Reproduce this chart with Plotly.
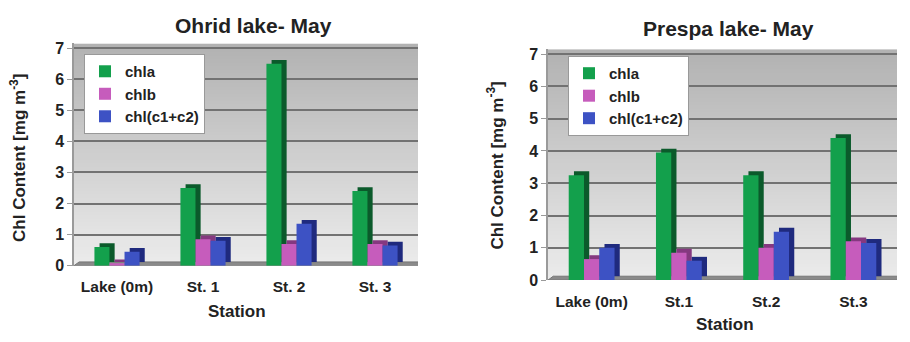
import base64
import struct
import zlib
import plotly.graph_objects as go

# ---------------- data ----------------
stations_ohrid = ["Lake (0m)", "St. 1", "St. 2", "St. 3"]
stations_prespa = ["Lake (0m)", "St.1", "St.2", "St.3"]
series_names = ["chla", "chlb", "chl(c1+c2)"]

ohrid_chla = [0.6, 2.5, 6.5, 2.4]
ohrid_chlb = [0.08, 0.85, 0.7, 0.7]
ohrid_chlc = [0.45, 0.8, 1.35, 0.65]

prespa_chla = [3.25, 3.95, 3.25, 4.4]
prespa_chlb = [0.65, 0.85, 1.0, 1.2]
prespa_chlc = [1.0, 0.6, 1.5, 1.15]

y_ticks = [0, 1, 2, 3, 4, 5, 6, 7]

# ---------------- style ----------------
FONT = "Liberation Sans"
W, H = 910, 342
front_colors = ["#13a04c", "#c65cbc", "#3d52c4"]
side_colors = ["#0b5a2b", "#853880", "#1f2a7e"]
BAR_W = 0.175
OFFSETS = [-0.2625, -0.0875, 0.0875]
DX = 0.06   # depth shift in category units
DY = 0.12   # depth shift in value units
YMAX = 7.15


def px(x):
    return x / W


def py(y):
    return (H - y) / H


def gradient_png(top, bottom, h=64):
    rows = b""
    for r in range(h):
        t = r / (h - 1)
        pix = bytes(int(round(top[k] + (bottom[k] - top[k]) * t)) for k in range(3))
        rows += b"\x00" + pix

    def chunk(tag, data):
        c = struct.pack(">I", len(data)) + tag + data
        return c + struct.pack(">I", zlib.crc32(tag + data) & 0xFFFFFFFF)
    png = b"\x89PNG\r\n\x1a\n"
    png += chunk(b"IHDR", struct.pack(">IIBBBBB", 1, h, 8, 2, 0, 0, 0))
    png += chunk(b"IDAT", zlib.compress(rows))
    png += chunk(b"IEND", b"")
    return "data:image/png;base64," + base64.b64encode(png).decode()


GRAD = gradient_png((178, 178, 178), (236, 236, 236))

fig = go.Figure()

panels = [
    dict(cats=stations_ohrid, vals=[ohrid_chla, ohrid_chlb, ohrid_chlc],
         xa="x", ya="y", legend="legend"),
    dict(cats=stations_prespa, vals=[prespa_chla, prespa_chlb, prespa_chlc],
         xa="x2", ya="y2", legend="legend2"),
]

images = []
shapes = []
for p in panels:
    n = len(p["cats"])
    xs = list(range(n))
    lo, hi = -0.5, n - 0.5
    images.append(dict(source=GRAD, xref=p["xa"], yref=p["ya"], x=lo, y=YMAX,
                       sizex=hi - lo + DX, sizey=YMAX, sizing="stretch",
                       layer="below", xanchor="left", yanchor="top"))
    shapes.append(dict(type="path", xref=p["xa"], yref=p["ya"], layer="between",
                       path=f"M {lo},0 L {hi},0 L {hi + DX},{DY} L {lo + DX},{DY} Z",
                       fillcolor="#8a8a8a", line=dict(color="#767676", width=1)))
    for i, name in enumerate(series_names):
        vals = p["vals"][i]
        # depth (side/top) face
        fig.add_trace(go.Bar(
            x=xs, y=vals, base=DY, width=BAR_W, offset=OFFSETS[i] + DX,
            marker=dict(color=side_colors[i], line=dict(width=0)),
            showlegend=False, hoverinfo="skip", xaxis=p["xa"], yaxis=p["ya"]))
        # front face
        fig.add_trace(go.Bar(
            x=xs, y=vals, width=BAR_W, offset=OFFSETS[i], name=name,
            marker=dict(color=front_colors[i], line=dict(width=0)),
            legend=p["legend"], xaxis=p["xa"], yaxis=p["ya"]))

axis_common_y = dict(range=[0, YMAX], tickvals=y_ticks, showgrid=True,
                     gridcolor="#727272", gridwidth=1.8, zeroline=False,
                     showline=True, linecolor="#9a9a9a", linewidth=1.5,
                     ticks="outside", ticklen=5, tickcolor="#9a9a9a",
                     tickfont=dict(family=FONT, size=16, color="#222", weight="bold"))
axis_common_x = dict(range=[-0.5, 3.5], showgrid=False, zeroline=False,
                     showline=False, ticks="", ticklabelstandoff=10,
                     tickfont=dict(family=FONT, size=15.5, color="#222", weight="bold"))
legend_common = dict(xanchor="left", yanchor="top", bgcolor="white",
                     bordercolor="#999", borderwidth=1, itemwidth=30,
                     tracegroupgap=0,
                     font=dict(family=FONT, size=15, color="#222", weight="bold"))

fig.update_layout(
    width=W, height=H,
    margin=dict(l=0, r=0, t=0, b=0),
    paper_bgcolor="white", plot_bgcolor="rgba(0,0,0,0)",
    barmode="overlay",
    xaxis=dict(domain=[px(74), px(418)], anchor="y",
               tickvals=list(range(len(stations_ohrid))), ticktext=stations_ohrid,
               **axis_common_x),
    yaxis=dict(domain=[py(272), py(41)], anchor="x", **axis_common_y),
    xaxis2=dict(domain=[px(548), px(897)], anchor="y2",
                tickvals=list(range(len(stations_prespa))), ticktext=stations_prespa,
                **axis_common_x),
    yaxis2=dict(domain=[py(287), py(47)], anchor="x2", **axis_common_y),
    legend=dict(x=px(84), y=py(52), **legend_common),
    legend2=dict(x=px(568), y=py(54), **legend_common),
    images=images,
    shapes=shapes,
    annotations=[
        dict(text="<b>Ohrid lake- May</b>", x=px(253), y=py(22),
             xref="paper", yref="paper", showarrow=False, xanchor="center",
             yanchor="middle", font=dict(family=FONT, size=21, color="#222")),
        dict(text="<b>Prespa lake- May</b>", x=px(728), y=py(25),
             xref="paper", yref="paper", showarrow=False, xanchor="center",
             yanchor="middle", font=dict(family=FONT, size=21, color="#222")),
        dict(text="<b>Station</b>", x=px(237), y=py(320),
             xref="paper", yref="paper", showarrow=False, xanchor="center",
             yanchor="middle", font=dict(family=FONT, size=17, color="#222")),
        dict(text="<b>Station</b>", x=px(725), y=py(333),
             xref="paper", yref="paper", showarrow=False, xanchor="center",
             yanchor="middle", font=dict(family=FONT, size=17, color="#222")),
        dict(text="<b>Chl Content [mg m<sup>-3</sup>]</b>", x=px(18),
             y=py(160), xref="paper", yref="paper", showarrow=False,
             xanchor="center", yanchor="middle",
             textangle=-90, font=dict(family=FONT, size=17, color="#222")),
        dict(text="<b>Chl Content [mg m<sup>-3</sup>]</b>", x=px(495),
             y=py(168), xref="paper", yref="paper", showarrow=False,
             xanchor="center", yanchor="middle",
             textangle=-90, font=dict(family=FONT, size=17, color="#222")),
    ],
)

fig.write_html("out.html",
               config={"displayModeBar": False},
               post_script="document.body.style.margin='0';"
                           "document.documentElement.style.overflow='hidden';")
